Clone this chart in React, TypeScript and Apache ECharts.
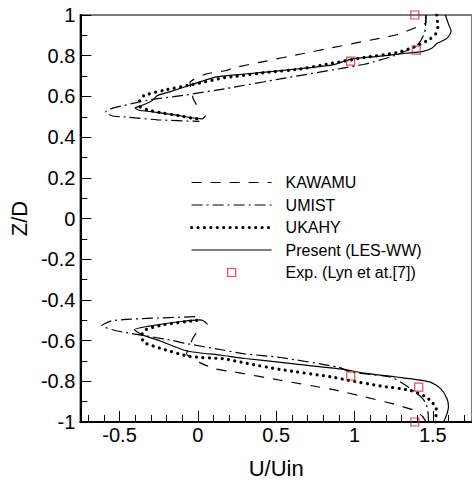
import React, { useEffect, useRef } from 'react';
import * as echarts from 'echarts';

// ---- axis ticks ----
const xMajorTicks = [-0.5, 0, 0.5, 1, 1.5];
const xMinorTicks = [-0.7, -0.6, -0.4, -0.3, -0.2, -0.1, 0.1, 0.2, 0.3, 0.4, 0.6, 0.7, 0.8, 0.9, 1.1, 1.2, 1.3, 1.4, 1.6, 1.7];

// ---- series names ----
const seriesNames = ['KAWAMU', 'UMIST', 'UKAHY', 'Present (LES-WW)', 'Exp. (Lyn et at.[7])'];

// ---- data: [U/Uin, Z/D] ----
const kawamuUpper = [
  [1.456, 1.0], [1.456, 0.962], [1.435, 0.952], [1.27, 0.903], [1.063, 0.871], [0.857, 0.839],
  [0.65, 0.807], [0.444, 0.775], [0.237, 0.742], [0.175, 0.726], [0.051, 0.71], [-0.05, 0.668],
  [-0.04, 0.62], [-0.03, 0.59], [0.005, 0.54],
];
const kawamuLower = [
  [1.456, -1.0], [1.435, -0.973], [1.39, -0.945], [1.27, -0.916], [1.063, -0.876], [0.857, -0.84],
  [0.527, -0.795], [0.237, -0.755], [0.113, -0.739], [0.01, -0.707], [-0.072, -0.665],
  [-0.05, -0.62], [-0.03, -0.586], [0.005, -0.545],
];
const umistUpper = [
  [1.456, 1.0], [1.452, 0.93], [1.44, 0.9], [1.42, 0.87], [1.39, 0.844], [1.249, 0.799],
  [1.063, 0.758], [0.918, 0.738], [0.527, 0.686], [0.175, 0.638], [-0.093, 0.605],
  [-0.32, 0.581], [-0.548, 0.541], [-0.59, 0.523], [-0.55, 0.505], [-0.465, 0.499],
  [-0.258, 0.485], [0.01, 0.477],
];
const umistLower = [
  [1.472, -1.0], [1.47, -0.96], [1.456, -0.908], [1.415, -0.87], [1.311, -0.812], [1.229, -0.779],
  [0.981, -0.755], [0.898, -0.731], [0.527, -0.683], [0.299, -0.665], [0.15, -0.645],
  [-0.07, -0.615], [-0.16, -0.6], [-0.32, -0.578], [-0.506, -0.554], [-0.613, -0.527],
  [-0.548, -0.502], [-0.258, -0.489], [0.01, -0.482],
];
const ukahyUpper = [
  [1.525, 1.0], [1.532, 0.94], [1.518, 0.907], [1.476, 0.879], [1.384, 0.844], [1.27, 0.815],
  [1.063, 0.791], [0.857, 0.763], [0.65, 0.734], [0.444, 0.718], [0.237, 0.698], [0.175, 0.693],
  [-0.011, 0.662], [-0.217, 0.63], [-0.341, 0.605], [-0.372, 0.581], [-0.37, 0.55],
  [-0.3, 0.53], [-0.217, 0.517], [-0.1, 0.503], [-0.011, 0.49], [0.031, 0.496],
];
const ukahyLower = [
  [1.518, -1.0], [1.522, -0.932], [1.497, -0.905], [1.456, -0.876], [1.352, -0.844], [1.167, -0.823],
  [0.96, -0.795], [0.857, -0.779], [0.527, -0.742], [0.3, -0.71], [0.17, -0.69], [-0.052, -0.678],
  [-0.217, -0.643], [-0.341, -0.61], [-0.362, -0.578], [-0.331, -0.546], [-0.217, -0.522],
  [-0.011, -0.501], [0.02, -0.5],
];
const presentUpper = [
  [1.58, 1.0], [1.6, 0.955], [1.617, 0.92], [1.59, 0.885], [1.53, 0.862], [1.49, 0.835],
  [1.43, 0.82], [1.33, 0.812], [1.15, 0.797], [0.98, 0.783], [0.86, 0.755], [0.7, 0.74],
  [0.53, 0.727], [0.3, 0.71], [0.11, 0.695], [-0.05, 0.655], [-0.17, 0.625], [-0.26, 0.603],
  [-0.29, 0.58], [-0.35, 0.558], [-0.4, 0.543], [-0.38, 0.533], [-0.32, 0.527], [-0.16, 0.51],
  [-0.01, 0.492], [0.03, 0.49], [0.05, 0.505],
];
const presentLower = [
  [1.569, -1.0], [1.59, -0.96], [1.6, -0.924], [1.59, -0.884], [1.55, -0.836], [1.48, -0.803],
  [1.27, -0.779], [1.06, -0.76], [0.92, -0.74], [0.53, -0.707], [0.3, -0.688], [0.15, -0.672],
  [-0.07, -0.651], [-0.24, -0.602], [-0.36, -0.57], [-0.405, -0.546], [-0.32, -0.53],
  [-0.11, -0.506], [0.01, -0.498], [0.04, -0.505], [0.062, -0.52],
];
const expData = [
  [1.385, 1.0], [1.394, 0.827], [0.975, 0.773],
  [0.976, -0.774], [1.41, -0.829], [1.385, -1.0],
];

const FONT = "'Liberation Sans', Arial, sans-serif";
const RED = '#d42020';

export default function App() {
  const ref = useRef<HTMLDivElement>(null);
  useEffect(() => {
    if (!ref.current) return;
    const chart = echarts.init(ref.current, undefined, { renderer: 'svg' });
    const dashed = { color: '#000', width: 1.2, type: [10, 9] as number[] };
    const dashDot = { color: '#000', width: 1.2, type: [11, 4, 2, 4] as number[] };
    const dotted = { color: '#000', width: 3.2, type: [0.01, 6.4] as number[], cap: 'round' as const };
    const solid = { color: '#000', width: 1.2, type: 'solid' as const };
    const lineSeries = (name: string, data: number[][], lineStyle: any) => ({
      type: 'line', name, data, symbol: 'none', showSymbol: false, lineStyle,
      itemStyle: { color: '#000' }, smooth: 0.2, z: 2,
    });
    const hiddenSym = { color: 'rgba(0,0,0,0)', borderColor: 'rgba(0,0,0,0)', borderWidth: 0, opacity: 0 };
    chart.setOption({
      animation: false,
      grid: { left: 70, top: 15, width: 404, height: 414, show: true, borderColor: '#7a7a7a', borderWidth: 2, containLabel: false },
      legend: {
        orient: 'vertical', left: 190, top: 174.5, padding: 0, itemWidth: 80, itemHeight: 8, itemGap: 6.5,
        selectedMode: false, symbolKeepAspect: true,
        data: [
          { name: seriesNames[0], itemStyle: hiddenSym, lineStyle: dashed },
          { name: seriesNames[1], itemStyle: hiddenSym, lineStyle: dashDot },
          { name: seriesNames[2], itemStyle: hiddenSym, lineStyle: dotted },
          { name: seriesNames[3], itemStyle: hiddenSym, lineStyle: solid },
          {
            name: seriesNames[4], icon: 'path://M0,0L10,0L10,10L0,10Z',
            itemStyle: { color: 'rgba(255,255,255,0)', borderColor: RED, borderWidth: 1.2 },
          },
        ],
        textStyle: { fontSize: 16, fontFamily: FONT, color: '#000', padding: [0, 0, 0, 9] },
      },
      xAxis: [
        {
          type: 'value', min: -0.75, max: 1.75, position: 'bottom',
          name: 'U/Uin', nameLocation: 'middle', nameGap: 35,
          nameTextStyle: { fontSize: 22, fontFamily: FONT, color: '#000' },
          axisLine: { show: true, onZero: false, lineStyle: { color: '#000', width: 2 } },
          axisTick: { show: true, inside: true, length: 11, customValues: xMajorTicks, lineStyle: { color: '#000', width: 1 } },
          axisLabel: { show: true, customValues: xMajorTicks, fontSize: 20, fontFamily: FONT, color: '#000', margin: 3 },
          splitLine: { show: false },
        },
        {
          type: 'value', min: -0.75, max: 1.75, position: 'bottom',
          axisLine: { show: false, onZero: false },
          axisTick: { show: true, inside: true, length: 7, customValues: xMinorTicks, lineStyle: { color: '#000', width: 1 } },
          axisLabel: { show: false },
          splitLine: { show: false },
        },
      ],
      yAxis: {
        type: 'value', min: -1, max: 1, interval: 0.2,
        name: 'Z/D', nameLocation: 'middle', nameGap: 39, nameRotate: 90,
        nameTextStyle: { fontSize: 22, fontFamily: FONT, color: '#000' },
        axisLine: { show: true, onZero: false, lineStyle: { color: '#000', width: 2 } },
        axisTick: { show: true, inside: true, length: 11, lineStyle: { color: '#000', width: 1 } },
        minorTick: { show: true, splitNumber: 2, length: 7, lineStyle: { color: '#000', width: 1 } },
        axisLabel: { fontSize: 20, fontFamily: FONT, color: '#000', margin: 5 },
        splitLine: { show: false },
        minorSplitLine: { show: false },
      },
      series: [
        lineSeries(seriesNames[0], kawamuUpper, dashed),
        lineSeries(seriesNames[0], kawamuLower, dashed),
        lineSeries(seriesNames[1], umistUpper, dashDot),
        lineSeries(seriesNames[1], umistLower, dashDot),
        lineSeries(seriesNames[2], ukahyUpper, dotted),
        lineSeries(seriesNames[2], ukahyLower, dotted),
        lineSeries(seriesNames[3], presentUpper, solid),
        lineSeries(seriesNames[3], presentLower, solid),
        {
          type: 'scatter', name: seriesNames[4], data: expData, symbol: 'rect', symbolSize: 8, z: 5,
          itemStyle: { color: 'rgba(255,255,255,0)', borderColor: RED, borderWidth: 1.2 },
        },
      ],
    });
    return () => chart.dispose();
  }, []);
  return <div ref={ref} style={{ position: 'absolute', left: 0, top: 0, width: 472, height: 484 }} />;
}
